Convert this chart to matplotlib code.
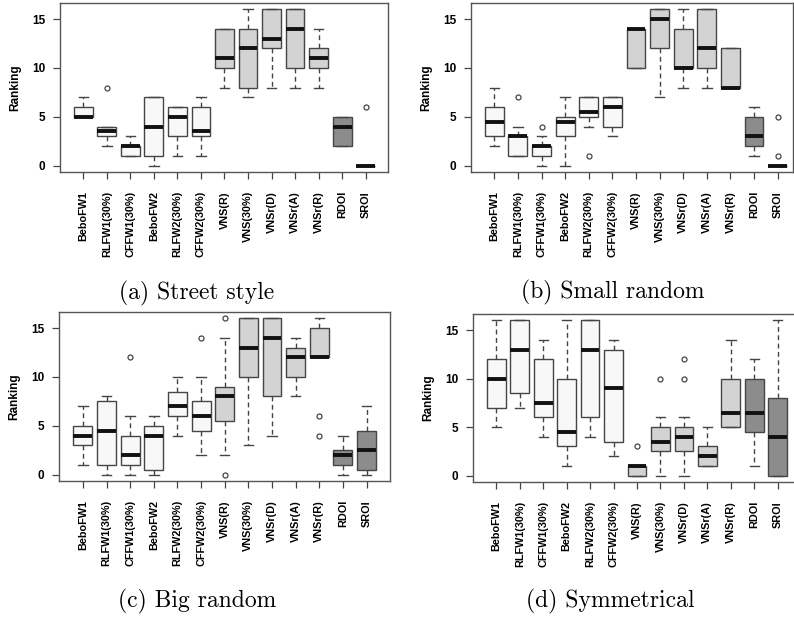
import numpy as np
import matplotlib
matplotlib.use("Agg")
import matplotlib.pyplot as plt

labels = ["BeboFW1", "RLFW1(30%)", "CFFW1(30%)", "BeboFW2", "RLFW2(30%)", "CFFW2(30%)",
          "VNS(R)", "VNS(30%)", "VNSr(D)", "VNSr(A)", "VNSr(R)", "RDOI", "SROI"]
groups = [0, 0, 0, 0, 0, 0, 1, 1, 1, 1, 1, 2, 2]

# (a) Street style
a_lo = [5, 2, 1, 0, 1, 1, 8, 7, 8, 8, 8, 2, 0]
a_q1 = [5, 3, 1, 1, 3, 3, 10, 8, 12, 10, 10, 2, 0]
a_med = [5, 3.5, 2, 4, 5, 3.5, 11, 12, 13, 14, 11, 4, 0]
a_q3 = [6, 4, 2, 7, 6, 6, 14, 14, 16, 16, 12, 5, 0]
a_hi = [7, 4, 3, 7, 6, 7, 14, 16, 16, 16, 14, 5, 0]
a_out = [[], [8], [], [], [], [], [], [], [], [], [], [], [6]]

# (b) Small random
b_lo = [2, 1, 0, 0, 4, 3, 10, 7, 8, 8, 8, 1, 0]
b_q1 = [3, 1, 1, 3, 5, 4, 10, 12, 10, 10, 8, 2, 0]
b_med = [4.5, 3, 2, 4.5, 5.5, 6, 14, 15, 10, 12, 8, 3, 0]
b_q3 = [6, 3, 2, 5, 7, 7, 14, 16, 14, 16, 12, 5, 0]
b_hi = [8, 4, 3, 7, 7, 7, 14, 16, 16, 16, 12, 6, 0]
b_out = [[], [7], [4], [], [1], [], [], [], [], [], [], [], [5, 1]]

# (c) Big random
c_lo = [1, 0, 0, 0, 4, 2, 2, 3, 4, 8, 12, 0, 0]
c_q1 = [3, 1, 1, 0.5, 6, 4.5, 5.5, 10, 8, 10, 12, 1, 0.5]
c_med = [4, 4.5, 2, 4, 7, 6, 8, 13, 14, 12, 12, 2, 2.5]
c_q3 = [5, 7.5, 4, 5, 8.5, 7.5, 9, 16, 16, 13, 15, 2.5, 4.5]
c_hi = [7, 8, 6, 6, 10, 10, 14, 16, 16, 14, 16, 4, 7]
c_out = [[], [], [12], [], [], [14], [16, 0], [], [], [], [6, 4], [], []]

# (d) Symmetrical
d_lo = [5, 7, 4, 1, 4, 2, 0, 0, 0, 1, 5, 1, 0]
d_q1 = [7, 8.5, 6, 3, 6, 3.5, 0, 2.5, 2.5, 1, 5, 4.5, 0]
d_med = [10, 13, 7.5, 4.5, 13, 9, 1, 3.5, 4, 2, 6.5, 6.5, 4]
d_q3 = [12, 16, 12, 10, 16, 13, 1, 5, 5, 3, 10, 10, 8]
d_hi = [16, 16, 14, 16, 16, 14, 1, 6, 6, 5, 14, 12, 16]
d_out = [[], [], [], [], [], [], [3], [10], [12, 10], [], [], [], []]

captions = ["(a) Street style", "(b) Small random", "(c) Big random", "(d) Symmetrical"]
fills = ["#f8f8f8", "#d3d3d3", "#8c8c8c"]
edge = "#454545"
sans = ["Liberation Sans", "DejaVu Sans"]

W, H = 794, 619
fig = plt.figure(figsize=(W / 100, H / 100), dpi=100)

# axes rectangles in pixels (left, top, right, bottom) and x limits
rects = [(60, 3, 388, 172), (471, 3, 793, 172), (59, 312, 390, 481), (473, 314, 800, 482)]
xlims = [(0.01, 13.95), (0.014, 13.65), (-0.01, 13.99), (0.006, 13.95)]
cap_pos = [(197, 293), (613, 292), (197, 601), (610, 601)]

panels = [
    (a_lo, a_q1, a_med, a_q3, a_hi, a_out),
    (b_lo, b_q1, b_med, b_q3, b_hi, b_out),
    (c_lo, c_q1, c_med, c_q3, c_hi, c_out),
    (d_lo, d_q1, d_med, d_q3, d_hi, d_out),
]

for k, (lo, q1, med, q3, hi, out) in enumerate(panels):
    l, t, r, b = rects[k]
    ax = fig.add_axes([l / W, 1 - b / H, (r - l) / W, (b - t) / H])
    stats = []
    for i in range(len(labels)):
        stats.append(dict(whislo=lo[i], q1=q1[i], med=med[i], q3=q3[i], whishi=hi[i], fliers=out[i]))
    bp = ax.bxp(stats, positions=np.arange(1, 14), widths=0.8, capwidths=0.4,
                patch_artist=True, showfliers=True,
                boxprops=dict(edgecolor=edge, linewidth=1.0),
                medianprops=dict(color="#111111", linewidth=2.8, solid_capstyle="butt"),
                whiskerprops=dict(color=edge, linewidth=1.0, linestyle=(0, (3.5, 2.5))),
                capprops=dict(color=edge, linewidth=1.0),
                flierprops=dict(marker="o", markersize=3.6, markerfacecolor="none",
                                markeredgecolor=edge, markeredgewidth=0.9))
    for patch, g in zip(bp["boxes"], groups):
        patch.set_facecolor(fills[g])

    ax.set_xlim(*xlims[k])
    ax.set_ylim(-0.66, 16.66)
    ax.set_yticks([0, 5, 10, 15])
    ax.set_yticklabels(["0", "5", "10", "15"], family=sans, fontweight="bold", fontsize=8.5)
    ax.set_xticks(np.arange(1, 14))
    ax.set_xticklabels(labels, rotation=90, family=sans, fontweight="bold", fontsize=7.8,
                       va="top", ha="center")
    ax.tick_params(axis="x", length=4.7, width=0.9, color=edge, pad=9)
    ax.tick_params(axis="y", length=5, width=0.9, color=edge, pad=5.5)
    for s in ax.spines.values():
        s.set_color("#555555")
        s.set_linewidth(1.0)
    ax.set_ylabel("Ranking", family=sans, fontweight="bold", fontsize=8.5, labelpad=8)

    fig.text(cap_pos[k][0] / W, 1 - cap_pos[k][1] / H, captions[k], family="cmr10",
             fontsize=17, ha="center", va="center")

fig.savefig("out.png", dpi=100)
